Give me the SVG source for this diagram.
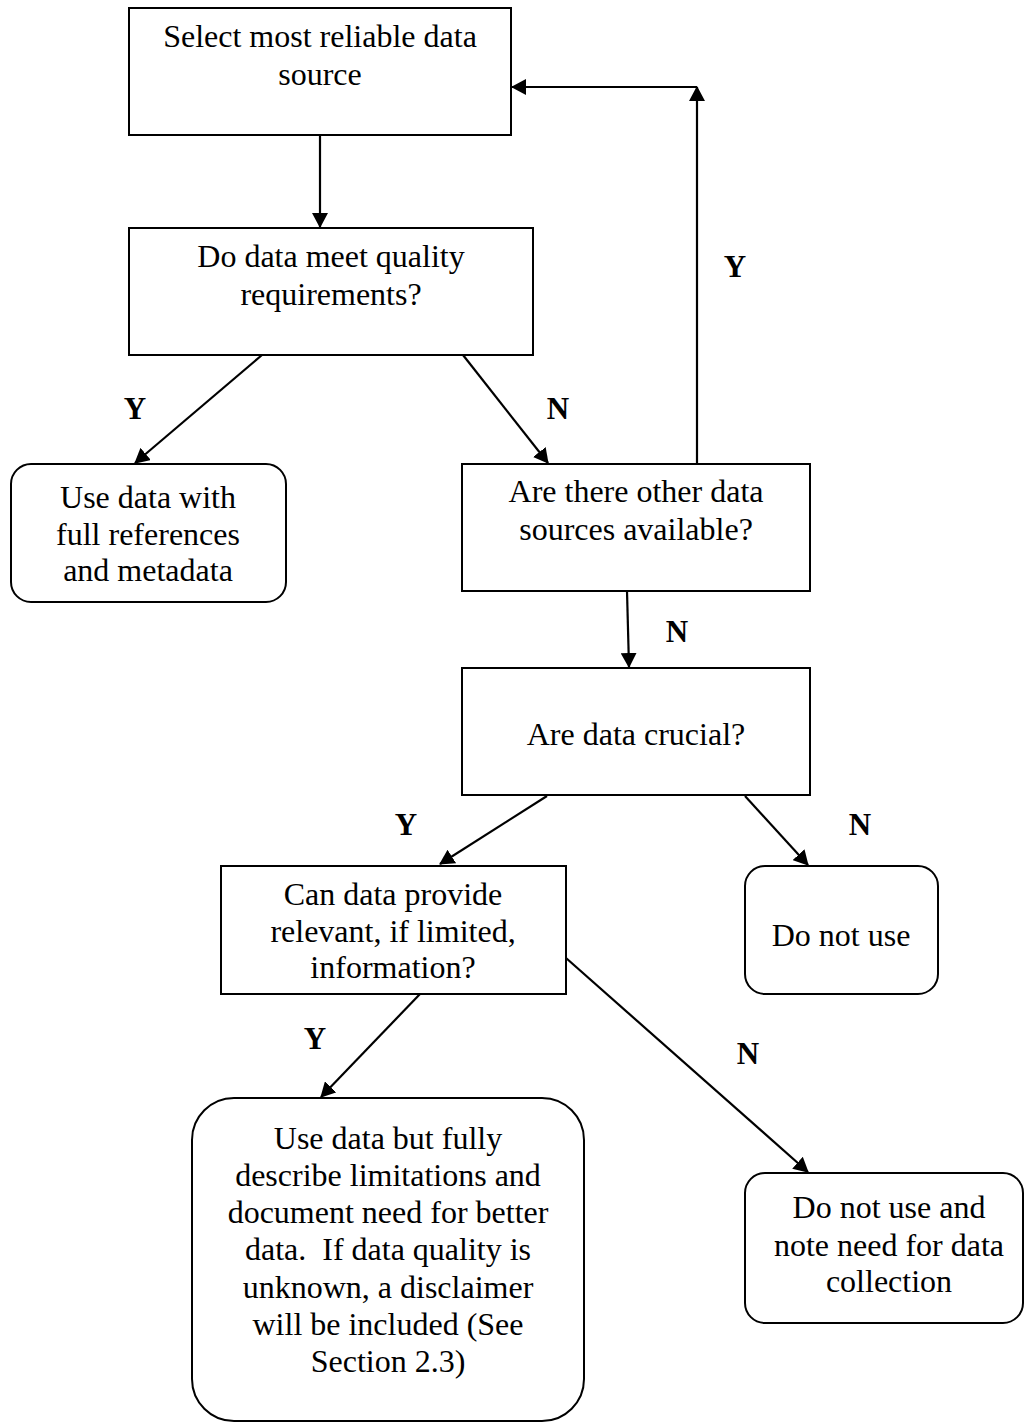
<svg xmlns="http://www.w3.org/2000/svg" width="1025" height="1424" viewBox="0 0 1025 1424">
<style>
.box{fill:#fff;stroke:#000;stroke-width:2}
.t{font-family:'Liberation Serif','Times New Roman',serif;font-size:32px;fill:#000;text-anchor:middle}
.lbl{font-family:'Liberation Serif','Times New Roman',serif;font-size:31px;font-weight:bold;fill:#000;text-anchor:middle}
.c{fill:none;stroke:#000;stroke-width:2.2;marker-end:url(#ah)}
</style>
<defs>
<marker id="ah" markerWidth="15" markerHeight="16" refX="14" refY="8" orient="auto" markerUnits="userSpaceOnUse">
<path d="M0,0 L15,8 L0,16 Z" fill="#000"/>
</marker>
</defs>
<rect width="1025" height="1424" fill="#fff"/>
<g id="connectors">
<path class="c" d="M320,135 L320,227"/>
<path class="c" d="M262,355 L135,463"/>
<path class="c" d="M463,355 L548,463"/>
<path class="c" d="M697,463 L697,87"/>
<path class="c" d="M697,87 L512,87"/>
<path class="c" d="M627,591 L629,667"/>
<path class="c" d="M547,796 L440,864"/>
<path class="c" d="M745,796 L808,865"/>
<path class="c" d="M420,994 L321,1097"/>
<path class="c" d="M566,958 L808,1172"/>
</g>
<g id="edge-labels">
<text class="lbl" x="135" y="419">Y</text>
<text class="lbl" x="558" y="419">N</text>
<text class="lbl" x="735" y="277">Y</text>
<text class="lbl" x="677" y="642">N</text>
<text class="lbl" x="406" y="835">Y</text>
<text class="lbl" x="860" y="835">N</text>
<text class="lbl" x="315" y="1049">Y</text>
<text class="lbl" x="748" y="1064">N</text>
</g>
<g id="n1">
<rect class="box" x="129" y="8" width="382" height="127"/>
<text class="t" x="320" y="47">Select most reliable data</text>
<text class="t" x="320" y="85">source</text>
</g>
<g id="n2">
<rect class="box" x="129" y="228" width="404" height="127"/>
<text class="t" x="331" y="267">Do data meet quality</text>
<text class="t" x="331" y="305">requirements?</text>
</g>
<g id="n3">
<rect class="box" x="11" y="464" width="275" height="138" rx="20" ry="20"/>
<text class="t" x="148" y="508">Use data with</text>
<text class="t" x="148" y="545">full references</text>
<text class="t" x="148" y="581">and metadata</text>
</g>
<g id="n4">
<rect class="box" x="462" y="464" width="348" height="127"/>
<text class="t" x="636" y="502">Are there other data</text>
<text class="t" x="636" y="540">sources available?</text>
</g>
<g id="n5">
<rect class="box" x="462" y="668" width="348" height="127"/>
<text class="t" x="636" y="745">Are data crucial?</text>
</g>
<g id="n6">
<rect class="box" x="221" y="866" width="345" height="128"/>
<text class="t" x="393" y="905">Can data provide</text>
<text class="t" x="393" y="942">relevant, if limited,</text>
<text class="t" x="393" y="978">information?</text>
</g>
<g id="n7">
<rect class="box" x="745" y="866" width="193" height="128" rx="20" ry="20"/>
<text class="t" x="841" y="946">Do not use</text>
</g>
<g id="n8">
<rect class="box" x="192" y="1098" width="392" height="323" rx="42" ry="42"/>
<text class="t" x="388" y="1149">Use data but fully</text>
<text class="t" x="388" y="1186">describe limitations and</text>
<text class="t" x="388" y="1223">document need for better</text>
<text class="t" x="388" y="1260" xml:space="preserve">data.  If data quality is</text>
<text class="t" x="388" y="1298">unknown, a disclaimer</text>
<text class="t" x="388" y="1335">will be included (See</text>
<text class="t" x="388" y="1372">Section 2.3)</text>
</g>
<g id="n9">
<rect class="box" x="745" y="1173" width="278" height="150" rx="20" ry="20"/>
<text class="t" x="889" y="1218">Do not use and</text>
<text class="t" x="889" y="1256">note need for data</text>
<text class="t" x="889" y="1292">collection</text>
</g>
</svg>
